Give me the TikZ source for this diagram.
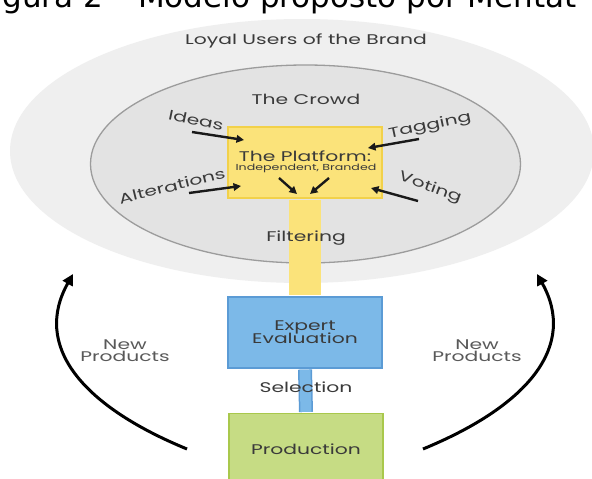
\documentclass[tikz,border=0pt]{standalone}
\usepackage{fontspec}
\usetikzlibrary{shapes.geometric,arrows.meta}
\setmainfont{Poppins}[FakeStretch=1.45]
\newfontfamily\titlefont{DejaVu Sans}
\definecolor{outerfill}{HTML}{EFEFEF}
\definecolor{innerfill}{HTML}{E3E3E3}
\definecolor{innerline}{HTML}{9C9C9C}
\definecolor{platfill}{HTML}{FBE37A}
\definecolor{platline}{HTML}{F2D14A}
\definecolor{evalfill}{HTML}{7CB9E8}
\definecolor{evalline}{HTML}{5B9BD5}
\definecolor{prodfill}{HTML}{C6DC84}
\definecolor{prodline}{HTML}{A9C84C}
\definecolor{txt}{HTML}{3A3A3A}
\tikzset{
  lbl/.style={font=\fontsize{14}{15}\selectfont, text=txt, inner sep=0pt, align=center},
  box/.style={rectangle, minimum width=154pt, minimum height=71pt, inner sep=0pt, line width=1.6pt},
  feed/.style={line width=2.4pt, draw=black!90, -{Triangle[length=7.5pt,width=7.5pt]}},
  loop/.style={line width=3pt, draw=black, -{Triangle[length=11pt,width=11pt]}},
}
\begin{document}
\begin{tikzpicture}[x=1pt,y=-1pt]
\useasboundingbox (0,0) rectangle (592,479);
\clip (0,0) rectangle (592,479);
\fill[white] (0,0) rectangle (592,479);

% caption line, mostly above the page edge
\node[anchor=base west, inner sep=0pt, font=\titlefont\fontsize{31}{31}\selectfont] (caption)
  at (-22,8) {Figura 2 – Modelo proposto por Mentat};

% the two circles of participants
\node[ellipse, fill=outerfill, minimum width=584pt, minimum height=264pt, inner sep=0pt] (outer) at (302,151) {};
\node[ellipse, fill=innerfill, draw=innerline, line width=1.3pt, minimum width=430pt, minimum height=198pt, inner sep=0pt] (inner) at (305.5,164) {};

\node[lbl] (loyal) at (306,41) {Loyal Users of the Brand};
\node[lbl] (crowd) at (306,99) {The Crowd};

% platform, evaluation and production
\node[box, fill=platfill, draw=platline] (platform) at (305,162.5) {};
\node[lbl, anchor=base] (plattitle) at (305,161) {The Platform:};
\node[lbl, anchor=base, font=\fontsize{8.7}{9}\selectfont] (platsub) at (306,170) {Independent, Branded};

\node[box, fill=evalfill, draw=evalline] (eval) at (305,332.5) {};
\node[box, fill=prodfill, draw=prodline] (prod) at (306,449) {};

\draw[line width=32pt, platfill] ([yshift=-0.8pt]platform.south) -- ([yshift=0.8pt]eval.north);
\draw[line width=14pt, evalline] ([yshift=-0.8pt]eval.south) -- ([yshift=0.8pt]prod.north);
\draw[line width=11pt, evalfill] ([yshift=-0.8pt]eval.south) -- ([yshift=0.8pt]prod.north);

\node[lbl] (filtering) at (306,238) {Filtering};
\node[lbl] (evaltext) at (305,332.5) {Expert\\[-2pt]Evaluation};
\node[lbl] (selection) at (306,387) {Selection};
\node[lbl] (prodtext) at (306,449) {Production};

% contributions flowing into the platform
\node[lbl, rotate=-12] (ideas) at (196,120) {Ideas};
\node[lbl, rotate=12] (tagging) at (430,126) {Tagging};
\node[lbl, rotate=14] (alter) at (172,186) {Alterations};
\node[lbl, rotate=-20] (voting) at (430,188) {Voting};

\coordinate (ideasA) at (192,132);   \coordinate (ideasB) at (244,140);
\coordinate (tagA) at (419,139);     \coordinate (tagB) at (368,148);
\coordinate (altA) at (189,193);     \coordinate (altB) at (241,186);
\coordinate (voteA) at (418,201);    \coordinate (voteB) at (371,188);
\coordinate (midLA) at (279,178);    \coordinate (midLB) at (297,194);
\coordinate (midRA) at (329,178);    \coordinate (midRB) at (310,194);

\draw[feed] (ideasA) -- (ideasB);
\draw[feed] (tagA) -- (tagB);
\draw[feed] (altA) -- (altB);
\draw[feed] (voteA) -- (voteB);
\draw[feed] (midLA) -- (midLB);
\draw[feed] (midRA) -- (midRB);

% new products returning to the brand's users
\coordinate (leftFoot) at (187,449);
\coordinate (leftTip) at (73,274);
\coordinate (rightFoot) at (423,449);
\coordinate (rightTip) at (537,274);
\draw[loop] (leftFoot) .. controls (80,405) and (33,345) .. (leftTip);
\draw[loop] (rightFoot) .. controls (530,405) and (577,345) .. (rightTip);

\node[lbl, text=black!65] (newL) at (125,351) {New\\[-3pt]Products};
\node[lbl, text=black!65] (newR) at (477,351) {New\\[-3pt]Products};
\end{tikzpicture}
\end{document}
